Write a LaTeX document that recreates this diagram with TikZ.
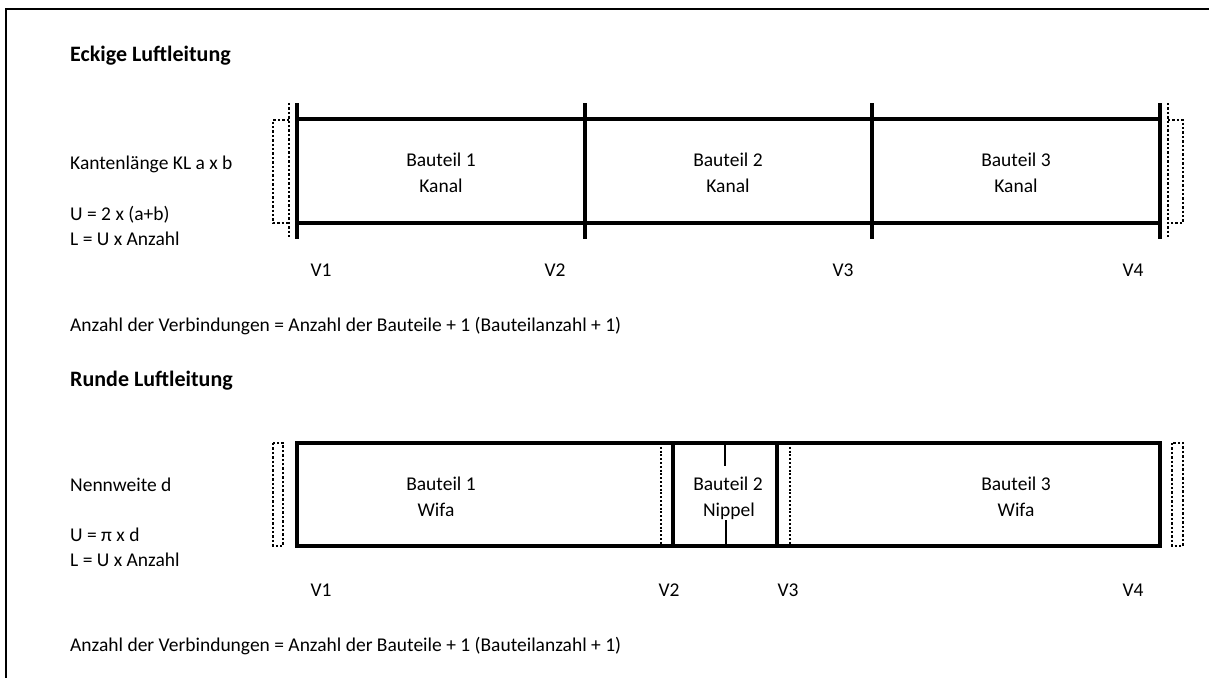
\documentclass[tikz,border=0pt]{standalone}
\usepackage{fontspec}
\setmainfont{Carlito}
\begin{document}
\begin{tikzpicture}[x=1pt,y=-1pt,
  txt/.style={font=\fontsize{19.5}{23}\selectfont, inner sep=0pt},
  lbl/.style={txt, anchor=base west},
  ctr/.style={txt, anchor=base},
  ttl/.style={txt, anchor=base west, font=\fontsize{22}{26}\selectfont\bfseries},
  duct/.style={line width=3.4pt},
  joint/.style={line width=3.4pt},
  tick/.style={line width=2.4pt},
  dots/.style={line width=2.6pt, dash pattern=on 2.4pt off 2pt},
  thindots/.style={line width=2pt, dash pattern=on 2pt off 1.8pt},
  frame/.style={line width=2.6pt}]
\useasboundingbox (0,0) rectangle (1209,677);
% frame
\coordinate (fbl) at (6,690);
\coordinate (ftl) at (6,9);
\coordinate (ftr) at (1220,9);
\draw[frame] (fbl) -- (ftl) -- (ftr);

% ===== Eckige Luftleitung =====
\node[ttl] (t1) at (70,62) {Eckige Luftleitung};
\node[lbl] (kl) at (70,169) {Kantenlänge KL a x b};
\node[lbl] (u1) at (70,220) {U = 2 x (a+b)};
\node[lbl] (l1) at (70,245) {L = U x Anzahl};

\draw[duct] (297,119) -- (1160,119);
\draw[duct] (297,223) -- (1160,223);
\foreach \x in {297,585,872,1160}{
  \draw[joint] (\x,103) -- (\x,239);
}
\draw[dots] (289,103) -- (289,239);
\draw[dots] (1168,103) -- (1168,239);
\draw[dots] (289,120) -- (273,120) -- (273,223) -- (289,223);
\draw[dots] (1168,120) -- (1183,120) -- (1183,223) -- (1168,223);

\node[ctr] (b1a) at (441,166) {Bauteil 1};
\node[ctr] (b1b) at (441,192) {Kanal};
\node[ctr] (b2a) at (728,166) {Bauteil 2};
\node[ctr] (b2b) at (728,192) {Kanal};
\node[ctr] (b3a) at (1016,166) {Bauteil 3};
\node[ctr] (b3b) at (1016,192) {Kanal};

\node[ctr] (v1a) at (321,276) {V1};
\node[ctr] (v2a) at (555,276) {V2};
\node[ctr] (v3a) at (843,276) {V3};
\node[ctr] (v4a) at (1133,276) {V4};

\node[lbl] (an1) at (70,331) {Anzahl der Verbindungen = Anzahl der Bauteile + 1 (Bauteilanzahl + 1)};

% ===== Runde Luftleitung =====
\node[ttl] (t2) at (70,386) {Runde Luftleitung};
\node[lbl] (nw) at (70,491) {Nennweite d};
\node[lbl] (u2) at (70,541) {U = π x d};
\node[lbl] (l2) at (70,566) {L = U x Anzahl};

\draw[duct] (297,443) rectangle (1160,546);
\draw[joint] (673,443) -- (673,546);
\draw[joint] (777,443) -- (777,546);
\draw[thindots] (661,443) -- (661,546);
\draw[thindots] (790,443) -- (790,546);
\draw[tick] (725,443) -- (725,466);
\draw[tick] (726,520) -- (726,546);
\draw[dots] (273,443) rectangle (283,546);
\draw[dots] (1172,443) rectangle (1183,546);

\node[ctr] (r1a) at (441,490) {Bauteil 1};
\node[ctr] (r1b) at (436,516) {Wifa};
\node[ctr] (r2a) at (728,490) {Bauteil 2};
\node[ctr] (r2b) at (729,516) {Nippel};
\node[ctr] (r3a) at (1016,490) {Bauteil 3};
\node[ctr] (r3b) at (1016,516) {Wifa};

\node[ctr] (v1b) at (321,596) {V1};
\node[ctr] (v2b) at (669,596) {V2};
\node[ctr] (v3b) at (788,596) {V3};
\node[ctr] (v4b) at (1133,596) {V4};

\node[lbl] (an2) at (70,651) {Anzahl der Verbindungen = Anzahl der Bauteile + 1 (Bauteilanzahl + 1)};
\end{tikzpicture}
\end{document}
